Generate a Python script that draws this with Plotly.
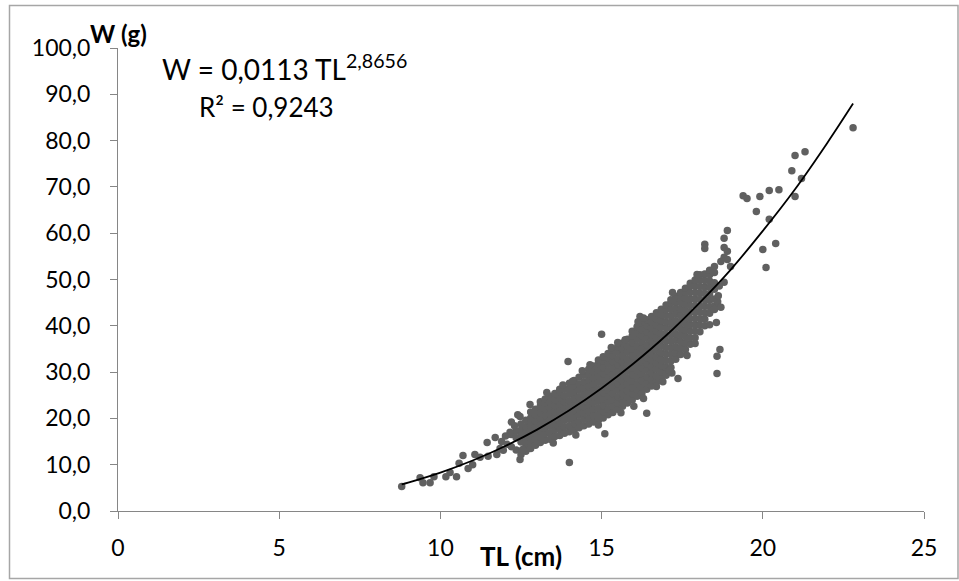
import plotly.graph_objects as go

# ---- trendline ----
trend_tl = [8.8, 9, 10, 11, 12, 13, 14, 15, 16, 17, 18, 19, 20, 21, 22, 22.8]
trend_w = [5.75, 6.13, 8.29, 10.90, 13.98, 17.58, 21.74, 26.51, 31.9, 37.9, 44.7, 52.1, 60.5, 69.5, 79.5, 88.0]

# ---- dense cloud, read column by column ----
band_tl = [12.2, 12.35, 12.5, 12.65, 12.8, 12.95, 13.1, 13.25, 13.4, 13.55, 13.7, 13.85,
           14.0, 14.15, 14.3, 14.45, 14.6, 14.75, 14.9, 15.05, 15.2, 15.35, 15.5, 15.65,
           15.8, 15.95, 16.1, 16.25, 16.4, 16.55, 16.7, 16.85, 17.0, 17.15, 17.3, 17.45,
           17.6, 17.75, 17.9, 18.05, 18.2, 18.35, 18.5]
band_w = [
    [13.9, 16.5],
    [13.2, 15.8, 17.2],
    [12.2, 14.9, 16.1, 17.5, 18.8],
    [12.9, 14.3, 15.5, 16.8, 18.2, 19.6],
    [13.5, 14.8, 16.2, 17.4, 18.8, 20.1, 21.4],
    [14.2, 15.5, 16.8, 18.1, 19.5, 20.8, 22.0],
    [14.8, 16.0, 17.4, 18.7, 20.1, 21.3, 22.7, 23.6],
    [15.3, 16.7, 18.0, 19.4, 20.6, 22.0, 23.3, 24.2],
    [15.5, 16.9, 18.3, 19.6, 20.9, 22.3, 23.5, 24.8],
    [16.1, 17.5, 18.8, 20.2, 21.5, 22.8, 24.1, 25.4],
    [16.3, 17.7, 19.0, 20.4, 21.7, 23.1, 24.4, 25.8, 26.3],
    [16.8, 18.2, 19.6, 20.9, 22.3, 23.6, 24.9, 26.3],
    [17.1, 18.4, 19.8, 21.1, 22.5, 23.8, 25.2, 26.5, 27.6],
    [17.5, 18.9, 20.3, 21.6, 23.0, 24.3, 25.7, 27.0, 28.2],
    [18.0, 19.3, 20.7, 22.0, 23.4, 24.7, 26.1, 27.4, 28.9],
    [18.4, 19.8, 21.2, 22.5, 23.9, 25.2, 26.6, 27.9, 29.4],
    [18.8, 20.1, 21.5, 22.9, 24.2, 25.6, 26.9, 28.3, 29.6, 30.6],
    [19.2, 20.6, 22.0, 23.4, 24.7, 26.1, 27.4, 28.8, 30.1, 31.3],
    [19.6, 20.9, 22.3, 23.7, 25.0, 26.4, 27.8, 29.1, 30.5, 31.8, 32.6],
    [20.1, 21.5, 22.8, 24.2, 25.6, 26.9, 28.3, 29.7, 31.0, 32.4, 33.3],
    [20.8, 22.1, 23.5, 24.9, 26.2, 27.6, 29.0, 30.3, 31.7, 33.0, 34.0],
    [21.3, 22.7, 24.0, 25.4, 26.8, 28.2, 29.5, 30.9, 32.3, 33.6, 34.8],
    [22.0, 23.3, 24.7, 26.1, 27.5, 28.8, 30.2, 31.6, 32.9, 34.3, 35.5],
    [22.6, 24.0, 25.4, 26.7, 28.1, 29.5, 30.8, 32.2, 33.6, 35.0, 36.3],
    [23.3, 24.7, 26.0, 27.4, 28.8, 30.2, 31.5, 32.9, 34.3, 35.7, 37.1],
    [24.0, 25.4, 26.7, 28.1, 29.5, 30.9, 32.2, 33.6, 35.0, 36.4, 37.8, 38.8],
    [24.8, 26.1, 27.5, 28.9, 30.2, 31.6, 33.0, 34.4, 35.7, 37.1, 38.5, 39.8],
    [25.4, 26.8, 28.2, 29.6, 31.0, 32.3, 33.7, 35.1, 36.5, 37.9, 39.2, 40.6],
    [26.3, 27.6, 29.0, 30.4, 31.8, 33.1, 34.5, 35.9, 37.3, 38.7, 40.0, 41.3],
    [27.0, 28.4, 29.8, 31.2, 32.6, 33.9, 35.3, 36.7, 38.1, 39.5, 40.8, 42.0],
    [27.8, 29.2, 30.6, 32.0, 33.3, 34.7, 36.1, 37.5, 38.9, 40.3, 41.6, 42.8],
    [28.7, 30.0, 31.4, 32.8, 34.2, 35.6, 37.0, 38.3, 39.7, 41.1, 42.4, 43.6],
    [29.8, 31.1, 32.5, 33.9, 35.3, 36.7, 38.1, 39.5, 40.8, 42.2, 43.5, 44.5],
    [31.0, 32.4, 33.8, 35.2, 36.6, 38.0, 39.4, 40.7, 42.1, 43.5, 44.9, 45.6],
    [32.8, 34.1, 35.5, 36.9, 38.3, 39.7, 41.1, 42.5, 43.8, 45.2, 46.4],
    [33.8, 35.2, 36.6, 38.0, 39.4, 40.8, 42.2, 43.6, 45.0, 46.3, 47.2],
    [34.9, 36.3, 37.7, 39.1, 40.5, 41.9, 43.3, 44.7, 46.0, 47.4, 48.1],
    [36.0, 37.4, 38.8, 40.2, 41.6, 43.0, 44.4, 45.8, 47.2, 48.6, 49.2],
    [37.4, 38.8, 40.2, 41.6, 43.0, 44.4, 45.8, 47.2, 48.6, 49.9],
    [38.7, 40.1, 41.5, 42.9, 44.3, 45.7, 47.1, 48.5, 49.9, 51.0],
    [40.0, 41.4, 42.8, 44.2, 45.6, 47.0, 48.4, 49.8, 51.2],
    [42.7, 44.1, 45.5, 46.9, 48.3, 49.7, 51.0, 52.0],
    [44.3, 45.8, 47.9, 49.3, 51.5],
]

# ---- scattered individual points ----
sparse_tl = [8.8, 9.37, 9.46, 9.68, 9.8, 10.17, 10.3, 10.5, 10.58, 10.7, 10.86, 11.0, 11.07,
             11.23, 11.45, 11.48, 11.7, 11.75, 11.85, 11.9, 12.07, 12.16, 12.2, 12.4, 12.47,
             12.47, 12.78, 14.0, 13.96, 15.0, 15.1, 16.0, 15.66, 16.4, 16.7, 17.0, 17.18,
             17.37, 14.1, 14.64, 15.5, 15.73, 16.13, 16.19, 17.2, 17.96, 18.46,
             18.6, 18.5, 18.56, 18.67, 18.58, 18.58, 18.8, 18.5, 18.2, 18.2, 18.8, 18.9,
             18.8, 18.7, 19.0, 18.9, 18.8, 19.39, 19.51, 19.91, 20.2, 20.5, 19.8, 20.2,
             20.4, 20.0, 20.1, 21.0, 21.31, 20.9, 21.2, 21.0, 22.8, 18.9,
             12.3, 12.55, 13.3, 13.8, 14.4, 15.3, 16.3, 13.5, 14.2, 14.9, 15.6, 16.3, 17.1,
             18.62, 18.65, 18.7, 12.02, 11.95, 17.65, 17.9, 16.9, 18.35]
sparse_w = [5.3, 7.2, 6.1, 6.1, 7.4, 7.4, 8.3, 7.4, 10.3, 12.0, 9.2, 10.0, 12.2,
            11.6, 14.8, 11.8, 15.9, 12.2, 13.5, 15.0, 14.4, 17.0, 19.2, 20.8, 11.1,
            20.4, 23.0, 10.5, 32.3, 38.2, 16.7, 22.6, 23.4, 21.1, 26.9, 29.3, 29.8,
            28.6, 28.0, 31.6, 36.4, 37.0, 40.9, 42.0, 47.2, 51.1, 51.7,
            45.2, 43.5, 40.7, 34.9, 33.4, 29.7, 49.4, 52.8, 57.6, 56.7, 56.9, 56.1,
            54.8, 53.9, 52.8, 60.6, 58.9, 68.1, 67.5, 67.9, 69.2, 69.4, 64.7, 63.0,
            57.8, 56.5, 52.6, 76.8, 77.6, 73.5, 71.8, 67.9, 82.8, 54.3,
            18.4, 13.3, 25.6, 27.2, 30.3, 35.3, 41.7, 14.7, 16.4, 18.6, 21.2, 24.3, 30.4,
            46.5, 48.6, 44.0, 16.2, 13.1, 33.6, 36.2, 27.9, 40.2]

x_ticks = [0, 5, 10, 15, 20, 25]
x_tick_labels = ["0", "5", "10", "15", "20", "25"]
y_ticks = [0, 10, 20, 30, 40, 50, 60, 70, 80, 90, 100]
y_tick_labels = ["0,0", "10,0", "20,0", "30,0", "40,0", "50,0", "60,0", "70,0", "80,0", "90,0", "100,0"]

# build point table
pts_tl, pts_w = [], []
for t, ws in zip(band_tl, band_w):
    for w in ws:
        pts_tl.append(t)
        pts_w.append(w)
pts_tl += sparse_tl
pts_w += sparse_w

FONT = "Lato"
AXIS = "#868686"

fig = go.Figure()
fig.add_trace(go.Scatter(x=pts_tl, y=pts_w, mode="markers",
                         marker=dict(size=7.5, color="#606060", line=dict(width=0)),
                         showlegend=False, cliponaxis=False))
fig.add_trace(go.Scatter(x=trend_tl, y=trend_w, mode="lines",
                         line=dict(color="black", width=1.8, shape="spline"),
                         showlegend=False))

fig.update_layout(
    width=959, height=581,
    margin=dict(l=118, r=35, t=48, b=70),
    paper_bgcolor="white", plot_bgcolor="white",
    font=dict(family=FONT, size=23, color="black"),
    xaxis=dict(range=[0, 25], tickvals=x_ticks, ticktext=x_tick_labels,
               showgrid=False, zeroline=False, showline=True, linecolor=AXIS, linewidth=1,
               ticks="outside", ticklen=7, tickcolor=AXIS, tickwidth=1,
               ticklabelstandoff=9, tickfont=dict(family=FONT, size=23, color="black")),
    yaxis=dict(range=[0, 100], tickvals=y_ticks, ticktext=y_tick_labels,
               showgrid=False, zeroline=False, showline=True, linecolor=AXIS, linewidth=1,
               ticks="outside", ticklen=7, tickcolor=AXIS, tickwidth=1,
               ticklabelstandoff=15, tickfont=dict(family=FONT, size=23, color="black")),
    shapes=[dict(type="rect", xref="paper", yref="paper",
                 x0=(9.5 - 118) / 806, x1=(958 - 118) / 806,
                 y0=(511.5 - 579) / 463.5, y1=(511.5 - 5.5) / 463.5,
                 line=dict(color="#a6a6a6", width=1.5), fillcolor="rgba(0,0,0,0)", layer="below")],
    annotations=[
        dict(text="<b>W (g)</b>", xref="paper", yref="paper", x=0.0, y=(511.5 - 33) / 463.5,
             xanchor="center", yanchor="middle", showarrow=False,
             font=dict(family=FONT, size=24, color="black")),
        dict(text="<b>TL (cm)</b>", xref="paper", yref="paper", x=0.5, y=(511.5 - 557) / 463.5,
             xanchor="center", yanchor="middle", showarrow=False,
             font=dict(family=FONT, size=26, color="black")),
        dict(text="W = 0,0113 TL<sup>2,8656</sup>", xref="paper", yref="paper",
             x=(160 - 118) / 806, y=(511.5 - 68) / 463.5, xanchor="left", yanchor="middle",
             showarrow=False, font=dict(family=FONT, size=28, color="black")),
        dict(text="R² = 0,9243", xref="paper", yref="paper",
             x=(197 - 118) / 806, y=(511.5 - 107) / 463.5, xanchor="left", yanchor="middle",
             showarrow=False, font=dict(family=FONT, size=26, color="black")),
    ],
)

fig.write_html("out.html", config={"displayModeBar": False},
               post_script="document.body.style.margin='0';")
